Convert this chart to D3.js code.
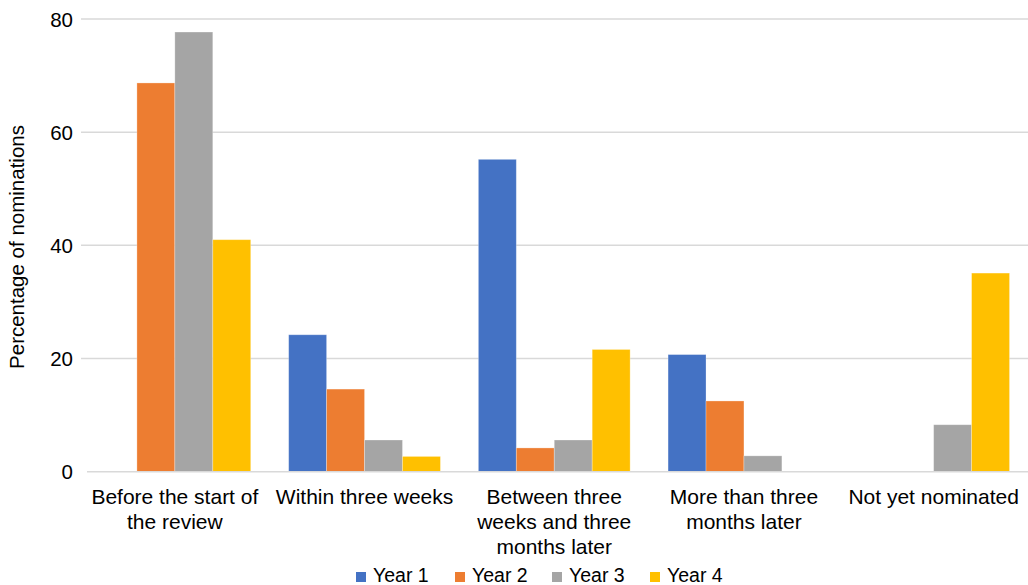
<!DOCTYPE html>
<html>
<head>
<meta charset="utf-8">
<script src="https://cdn.jsdelivr.net/npm/d3@7"></script>
<style>
  html, body { margin: 0; padding: 0; background: #fff; }
  svg { display: block; font-family: "Liberation Sans", Arial, sans-serif; }
</style>
</head>
<body>
<svg id="chart" width="1028" height="585"></svg>
<script>
// Timing of nominations, percentage per review year
const categories = [
  "Before the start of the review",
  "Within three weeks",
  "Between three weeks and three months later",
  "More than three months later",
  "Not yet nominated"
];
const seriesNames = ["Year 1", "Year 2", "Year 3", "Year 4"];
const year1 = [0, 24.2, 55.2, 20.7, 0];
const year2 = [68.7, 14.6, 4.2, 12.5, 0];
const year3 = [77.7, 5.6, 5.6, 2.8, 8.3];
const year4 = [41.0, 2.7, 21.6, 0, 35.1];
const yTicks = [0, 20, 40, 60, 80];
const colors = ["#4472C4", "#ED7D31", "#A5A5A5", "#FFC000"];

const seriesValues = [year1, year2, year3, year4];

const svg = d3.select("#chart");
const plotLeft = 80, plotRight = 1028.5, plotTop = 19, plotBottom = 471.7;

const x = d3.scaleBand().domain(categories).range([plotLeft, plotRight]).paddingInner(0.2).paddingOuter(0.1);
const xs = d3.scaleBand().domain(seriesNames).range([0, x.bandwidth()]);
const y = d3.scaleLinear().domain([0, 80]).range([plotBottom, plotTop]);

// gridlines
svg.append("g").selectAll("line").data(yTicks.filter(d => d > 0)).join("line")
  .attr("x1", plotLeft + 1).attr("x2", 1028)
  .attr("y1", d => y(d)).attr("y2", d => y(d))
  .attr("stroke", "#d9d9d9").attr("stroke-width", 1.5);

// bars
const groups = svg.append("g").selectAll("g").data(seriesNames).join("g")
  .attr("fill", (d, i) => colors[i]);
groups.selectAll("rect")
  .data((s, i) => categories.map((c, j) => ({ c, s, v: seriesValues[i][j] })))
  .join("rect")
  .attr("x", d => x(d.c) + xs(d.s))
  .attr("width", xs.bandwidth())
  .attr("y", d => y(d.v))
  .attr("height", d => y(0) - y(d.v))
  .attr("stroke", "#ffffff").attr("stroke-opacity", 0.35).attr("stroke-width", 0.8);

// zero axis line
svg.append("line")
  .attr("x1", plotLeft + 7).attr("x2", 1028)
  .attr("y1", y(0)).attr("y2", y(0))
  .attr("stroke", "#d9d9d9").attr("stroke-width", 1.5);

// y axis labels
const yAxis = d3.axisLeft(y).tickValues(yTicks).tickSize(0).tickPadding(0);
const yg = svg.append("g").attr("transform", `translate(${plotLeft - 7},0)`).call(yAxis);
yg.select(".domain").remove();
yg.selectAll("text").attr("font-size", 20.5).attr("fill", "#000")
  .attr("font-family", "Liberation Sans, Arial, sans-serif").attr("dy", "0.35em");

// x axis labels with wrapping
const xAxis = d3.axisBottom(x).tickSize(0).tickPadding(0);
const xg = svg.append("g").attr("transform", `translate(0,${plotBottom})`).call(xAxis);
xg.select(".domain").remove();
xg.selectAll("text").attr("font-size", 21).attr("fill", "#000")
  .attr("font-family", "Liberation Sans, Arial, sans-serif")
  .attr("y", 0).attr("dy", null)
  .each(function (d) {
    const t = d3.select(this);
    const words = d.split(" ");
    t.text(null);
    const maxW = x.step() - 4;
    let line = [];
    let lineNo = 0;
    let tspan = t.append("tspan").attr("x", 0).attr("y", 32);
    for (const w of words) {
      line.push(w);
      tspan.text(line.join(" "));
      if (tspan.node().getComputedTextLength() > maxW && line.length > 1) {
        line.pop();
        tspan.text(line.join(" "));
        line = [w];
        lineNo++;
        tspan = t.append("tspan").attr("x", 0).attr("y", 32 + lineNo * 25).text(w);
      }
    }
  });

// y axis title
svg.append("text")
  .attr("transform", "translate(24,247) rotate(-90)")
  .attr("text-anchor", "middle")
  .attr("font-size", 20.5)
  .attr("fill", "#000")
  .text("Percentage of nominations");

// legend
const legendX = [356, 455, 552, 650];
const lg = svg.append("g").selectAll("g").data(seriesNames).join("g")
  .attr("transform", (d, i) => `translate(${legendX[i]},572)`);
lg.append("rect").attr("width", 10).attr("height", 10).attr("fill", (d, i) => colors[i]);
lg.append("text").attr("x", 17).attr("y", 10).attr("font-size", 19.5).attr("fill", "#000").text(d => d);
</script>
</body>
</html>
